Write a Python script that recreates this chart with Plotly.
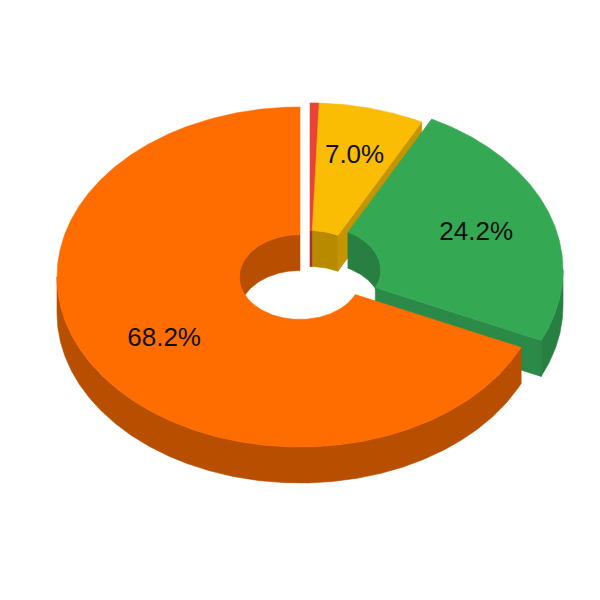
import numpy as np
import plotly.graph_objects as go

# share of each slice, clockwise from 12 o'clock
shares = [0.6, 7.0, 24.2, 68.2]
top_colors = ['#EA4335', '#FBBC04', '#34A853', '#FF6D00']
side_colors = ['#A8302A', '#B88A00', '#277F41', '#B84F00']
cut_colors = ['#A8302A', '#C49500', '#2B8A47', '#B84F00']
hide_label_below = 1.0

# drawing geometry (px on the 600x600 axes)
CX, CY = 300, 277
RX, RY = 243, 170
HOLE = 0.25
DEPTH = 36
LABEL_DROP = 1.5
pull_x = [10, 10, 20, 0]
pull_y = [-4, -4, -7, 0]
label_r = [0.68, 0.72, 0.68, 0.665]


def arc(a0, a1, frac, dx, dy, drop=0):
    t = np.radians(np.linspace(a0, a1, max(int(abs(a1 - a0)) * 2, 2)))
    x = CX + dx + frac * RX * np.sin(t)
    y = CY + dy + drop - frac * RY * np.cos(t)
    return x, y


def add_poly(fig, x, y, color):
    fig.add_trace(go.Scatter(
        x=np.append(x, x[0]), y=np.append(y, y[0]),
        mode='lines', fill='toself', fillcolor=color,
        line=dict(color=color, width=0.6),
        hoverinfo='skip', showlegend=False,
    ))


def add_wall(fig, a0, a1, frac, dx, dy, color):
    # vertical band hanging under an arc
    if a1 <= a0:
        return
    x1, y1 = arc(a0, a1, frac, dx, dy)
    x2, y2 = arc(a1, a0, frac, dx, dy, DEPTH)
    add_poly(fig, np.concatenate([x1, x2]), np.concatenate([y1, y2]), color)


fig = go.Figure()

ends = np.cumsum(shares) / sum(shares) * 360
starts = np.concatenate([[0], ends[:-1]])

for i in range(len(shares)):
    a0, a1 = starts[i], ends[i]
    dx, dy = pull_x[i], pull_y[i]
    side = side_colors[i]

    # inside of the hole, only the far half shows
    add_wall(fig, a0, min(a1, 90), HOLE, dx, dy, side)
    add_wall(fig, max(a0, 270), a1, HOLE, dx, dy, side)

    # cut face at the clockwise end of the slice
    if a1 < 180:
        xi, yi = arc(a1, a1, HOLE, dx, dy)
        xo, yo = arc(a1, a1, 1, dx, dy)
        add_poly(fig, [xi[0], xo[0], xo[0], xi[0]],
                 [yi[0], yo[0], yo[0] + DEPTH, yi[0] + DEPTH], cut_colors[i])

    # outer rim, only the near half shows
    add_wall(fig, max(a0, 90), min(a1, 270), 1, dx, dy, side)

    # top face
    xo, yo = arc(a0, a1, 1, dx, dy)
    xi, yi = arc(a1, a0, HOLE, dx, dy)
    add_poly(fig, np.concatenate([xo, xi]), np.concatenate([yo, yi]), top_colors[i])

for i in range(len(shares)):
    if shares[i] < hide_label_below:
        continue
    mid = (starts[i] + ends[i]) / 2
    x, y = arc(mid, mid, label_r[i], pull_x[i], pull_y[i], LABEL_DROP)
    fig.add_trace(go.Scatter(
        x=[x[0]], y=[y[0]], mode='text', text=[f'{shares[i]:.1f}%'],
        textposition='middle center',
        textfont=dict(family='Liberation Sans, Arial', size=26, color='#111111'),
        hoverinfo='skip', showlegend=False,
    ))

fig.update_xaxes(range=[0, 600], visible=False, fixedrange=True)
fig.update_yaxes(range=[600, 0], visible=False, fixedrange=True)
fig.update_layout(
    width=600, height=600,
    margin=dict(l=0, r=0, t=0, b=0),
    paper_bgcolor='white', plot_bgcolor='white',
    showlegend=False,
)

# the page body has a default margin that would push the chart off by 8px
fig.write_html("out.html", config={'displayModeBar': False},
               post_script="document.body.style.margin='0';")
